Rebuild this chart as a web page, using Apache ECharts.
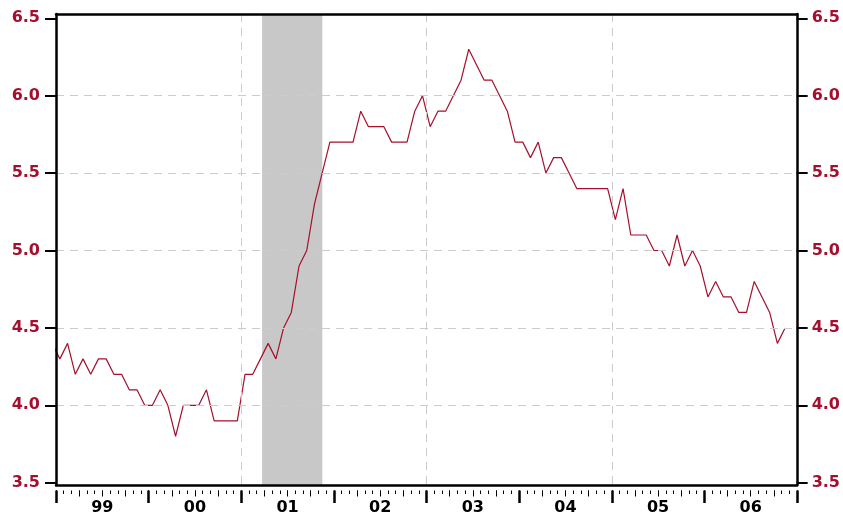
<!DOCTYPE html>
<html>
<head>
<meta charset="utf-8">
<script src="https://cdn.jsdelivr.net/npm/echarts@6/dist/echarts.min.js"></script>
<style>
html,body{margin:0;padding:0;background:#fff;}
#chart{width:843px;height:516px;}
</style>
</head>
<body>
<div id="chart"></div>
<script>
// Monthly values, first value = Dec 1998 (month index -1 relative to Jan 1999)
const firstMonth = -1;
const rate = [
  4.4,
  4.3, 4.4, 4.2, 4.3, 4.2, 4.3, 4.3, 4.2, 4.2, 4.1, 4.1, 4.0,
  4.0, 4.1, 4.0, 3.8, 4.0, 4.0, 4.0, 4.1, 3.9, 3.9, 3.9, 3.9,
  4.2, 4.2, 4.3, 4.4, 4.3, 4.5, 4.6, 4.9, 5.0, 5.3, 5.5, 5.7,
  5.7, 5.7, 5.7, 5.9, 5.8, 5.8, 5.8, 5.7, 5.7, 5.7, 5.9, 6.0,
  5.8, 5.9, 5.9, 6.0, 6.1, 6.3, 6.2, 6.1, 6.1, 6.0, 5.9, 5.7,
  5.7, 5.6, 5.7, 5.5, 5.6, 5.6, 5.5, 5.4, 5.4, 5.4, 5.4, 5.4,
  5.2, 5.4, 5.1, 5.1, 5.1, 5.0, 5.0, 4.9, 5.1, 4.9, 5.0, 4.9,
  4.7, 4.8, 4.7, 4.7, 4.6, 4.6, 4.8, 4.7, 4.6, 4.4, 4.5
];
const yearLabels = ['99', '00', '01', '02', '03', '04', '05', '06'];
const recession = [26.7, 34.5]; // months since Jan 1999
const yTicks = [3.5, 4.0, 4.5, 5.0, 5.5, 6.0, 6.5];

const RED = '#a50f2d';
const FONT = 'DejaVu Sans';
const monthsSpan = yearLabels.length * 12;
const seriesData = rate.map((v, i) => [firstMonth + i + 0.5, v]);

const chart = echarts.init(document.getElementById('chart'), null, {renderer: 'canvas'});
const hidden = {show: false};
const frameLine = {show: true, onZero: false, lineStyle: {color: '#000', width: 2.5}};
const gridDash = {color: '#cccccc', width: 1, type: [8, 6]};
const tickAxis = (interval, len, width) => ({
  type: 'value', gridIndex: 0, position: 'bottom', min: 0, max: monthsSpan, interval: interval,
  offset: 5.5, z: 10,
  axisLine: {show: false, onZero: false},
  axisTick: {show: true, length: len, lineStyle: {color: '#000', width: width}},
  axisLabel: hidden, splitLine: hidden
});

chart.setOption({
  animation: false,
  grid: [
    {left: 56, right: 46, top: 14, bottom: 29},
    {left: 56, right: 46, top: 18.3, bottom: 33.3}
  ],
  xAxis: [
    { // 0 frame bottom + vertical dashed grid
      type: 'value', gridIndex: 0, position: 'bottom', min: 0, max: monthsSpan, interval: 24, z: 10,
      axisLine: frameLine, axisTick: hidden, axisLabel: hidden,
      splitLine: {show: true, lineStyle: gridDash}
    },
    { // 1 frame top
      type: 'value', gridIndex: 0, position: 'top', min: 0, max: monthsSpan, z: 10,
      axisLine: frameLine, axisTick: hidden, axisLabel: hidden, splitLine: hidden
    },
    tickAxis(1, 3.5, 1),
    tickAxis(3, 6, 1),
    tickAxis(12, 12.5, 2.5),
    { // 5 year labels
      type: 'value', gridIndex: 0, position: 'bottom', min: 0, max: monthsSpan, interval: 6, z: 10,
      axisLine: {show: false, onZero: false}, axisTick: hidden, splitLine: hidden,
      axisLabel: {
        show: true, margin: 15, color: '#000', fontFamily: FONT, fontWeight: 'bold', fontSize: 16,
        formatter: v => (v % 12 === 6 ? yearLabels[(v - 6) / 12] : '')
      }
    },
    { // 6 data x axis
      type: 'value', gridIndex: 1, min: 0, max: monthsSpan, show: false,
      axisLine: {onZero: false}
    }
  ],
  yAxis: [
    { // 0 frame left
      type: 'value', gridIndex: 0, position: 'left', min: 0, max: 1, z: 10,
      axisLine: frameLine, axisTick: hidden, axisLabel: hidden, splitLine: hidden
    },
    { // 1 frame right
      type: 'value', gridIndex: 0, position: 'right', min: 0, max: 1, z: 10,
      axisLine: frameLine, axisTick: hidden, axisLabel: hidden, splitLine: hidden
    },
    { // 2 data left
      type: 'value', gridIndex: 1, position: 'left', min: yTicks[0], max: yTicks[yTicks.length - 1], interval: 0.5, z: 10,
      axisLine: {show: false, onZero: false},
      axisTick: {show: true, length: 11, lineStyle: {color: '#000', width: 2}},
      axisLabel: {show: true, margin: 16, color: RED, fontFamily: FONT, fontWeight: 'bold', fontSize: 16,
        formatter: v => v.toFixed(1)},
      splitLine: {show: true, showMinLine: false, showMaxLine: false, lineStyle: gridDash}
    },
    { // 3 data right
      type: 'value', gridIndex: 1, position: 'right', min: yTicks[0], max: yTicks[yTicks.length - 1], interval: 0.5, z: 10,
      axisLine: {show: false, onZero: false},
      axisTick: {show: true, length: 11, lineStyle: {color: '#000', width: 2}},
      axisLabel: {show: true, margin: 15, color: RED, fontFamily: FONT, fontWeight: 'bold', fontSize: 16,
        formatter: v => v.toFixed(1)},
      splitLine: hidden
    }
  ],
  series: [
    {
      type: 'line', xAxisIndex: 0, yAxisIndex: 0, silent: true, z: 2,
      data: [[recession[0], 0.5], [recession[1], 0.5]],
      showSymbol: false, symbol: 'none', lineStyle: {width: 0, opacity: 0},
      markArea: {
        silent: true,
        itemStyle: {color: '#c8c8c8'},
        data: [[{xAxis: recession[0]}, {xAxis: recession[1]}]]
      }
    },
    {
      type: 'line', xAxisIndex: 6, yAxisIndex: 2, z: 5, clip: true,
      data: seriesData, showSymbol: false, symbol: 'none',
      lineStyle: {color: RED, width: 1.2}
    }
  ]
});
</script>
</body>
</html>
